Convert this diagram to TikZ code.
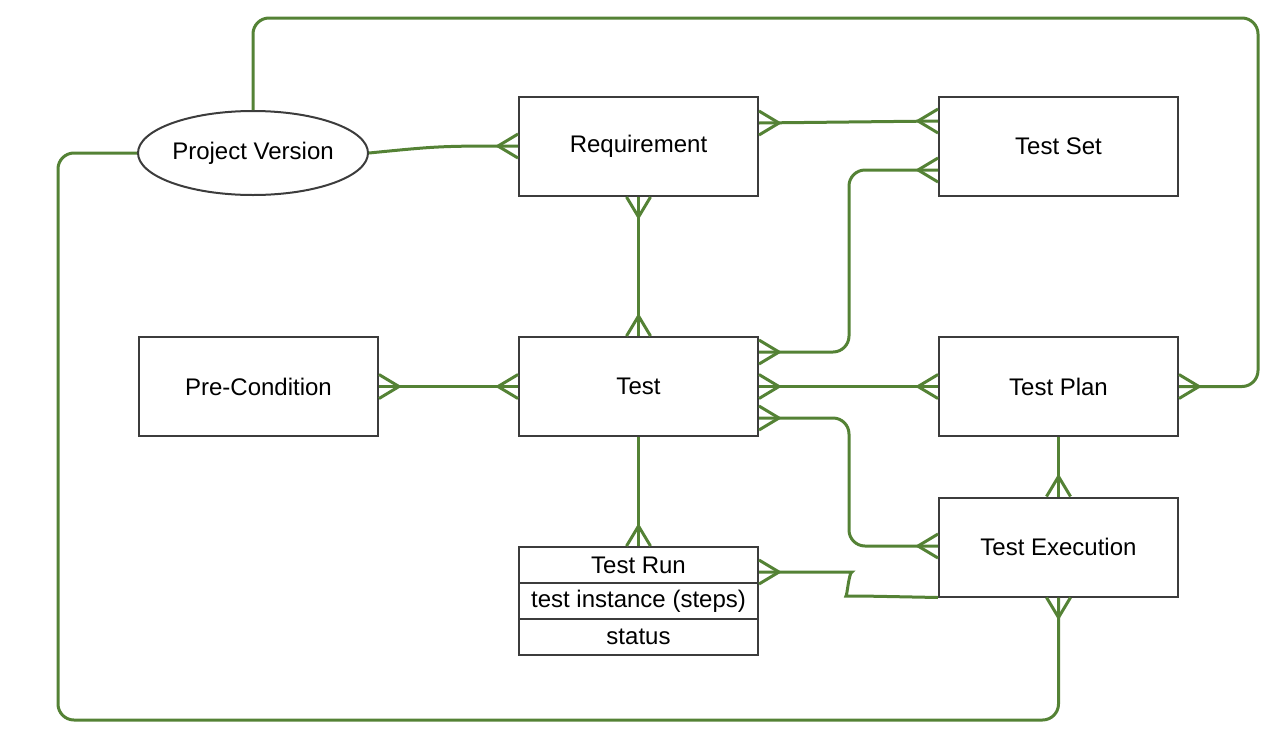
\documentclass[tikz,border=0pt]{standalone}
\usepackage{fontspec}
\setmainfont{Liberation Sans}
\usetikzlibrary{calc,positioning,shapes.geometric}
\definecolor{linkgreen}{RGB}{84,130,53}
\definecolor{boxgray}{RGB}{60,60,60}
\tikzset{
  entity/.style={draw=boxgray,line width=1pt,rectangle,minimum width=119.5pt,minimum height=49.5pt,inner sep=0pt,font=\fontsize{12}{14}\selectfont},
  row/.style={draw=boxgray,line width=1pt,rectangle,minimum width=119.5pt,minimum height=18pt,inner sep=0pt,font=\fontsize{12}{14}\selectfont},
  link/.style={draw=linkgreen,line width=1.5pt,rounded corners=8pt},
}
% crow's foot at point #1, pointing out along angle #2
\newcommand{\crowfoot}[2]{%
  \draw[link,rounded corners=0pt] ($(#1)+(#2+90:6pt)$) -- ($(#1)+(#2:10pt)$) -- ($(#1)+(#2-90:6pt)$);}
\begin{document}
\begin{tikzpicture}[x=0.5pt,y=-0.5pt]
	\useasboundingbox (0,0) rectangle (1286,740);
	\node[entity] (req) at (638.5,146.5) {Requirement};
	\node[entity] (set) at (1058.5,146.5) {Test Set};
	\node[entity] (pre) at (258.5,386.5) {Pre-Condition};
	\node[entity] (test) at (638.5,386.5) {Test};
	\node[entity] (plan) at (1058.5,386.5) {Test Plan};
	\node[entity] (exec) at (1058.5,547) {Test Execution};
	\node[draw=boxgray,line width=1pt,ellipse,minimum width=115pt,minimum height=42pt,inner sep=0pt,
	font=\fontsize{12}{14}\selectfont] (pv) at (253,153) {Project Version};
	\node[row] (run) at (638.5,565) {Test Run};
	\node[row,below=-1pt of run] (inst) {test instance (steps)};
	\node[row,below=-1pt of inst] (stat) {status};
	% connectors
	\coordinate (pvR) at (pv.east);
	\coordinate (reqL) at (req.west |- 0,146);
	\draw[link] (pvR) .. controls (440,146) .. (reqL);
	\crowfoot{reqL}{180}
	\coordinate (reqR) at (req.east |- 0,123);
	\coordinate (setL) at (set.west |- 0,121);
	\draw[link] (reqR) -- (setL);
	\crowfoot{reqR}{0} \crowfoot{setL}{180}
	\draw[link] (req.south) -- (test.north);
	\crowfoot{req.south}{-90} \crowfoot{test.north}{90}
	\coordinate (t1) at (test.east |- 0,352);
	\coordinate (setL2) at (set.west |- 0,170);
	\draw[link] (t1) -| (849,261) |- (setL2);
	\crowfoot{t1}{0} \crowfoot{setL2}{180}
	\draw[link] (test.east) -- (plan.west);
	\crowfoot{test.east}{0} \crowfoot{plan.west}{180}
	\coordinate (t3) at (test.east |- 0,418);
	\coordinate (execL) at (exec.west |- 0,546);
	\draw[link] (t3) -| (849,480) |- (execL);
	\crowfoot{t3}{0} \crowfoot{execL}{180}
	\draw[link] (pre.east) -- (test.west);
	\crowfoot{pre.east}{0} \crowfoot{test.west}{180}
	\draw[link] (test.south) -- (run.north);
	\crowfoot{run.north}{90}
	\draw[link] (plan.south) -- (exec.north);
	\crowfoot{exec.north}{90}
	\coordinate (runR) at (run.east |- 0,572);
	\draw[link] (runR) -- (836,572) .. controls (849,572) and (847,596) .. (862,596) -- (exec.south west);
	\crowfoot{runR}{0}
	\draw[link] (pv.north) |- (1258,18) |- (plan.east);
	\crowfoot{plan.east}{0}
	\draw[link] (pv.west) -| (58,720) -| (exec.south);
	\crowfoot{exec.south}{-90}
\end{tikzpicture}
\end{document}
